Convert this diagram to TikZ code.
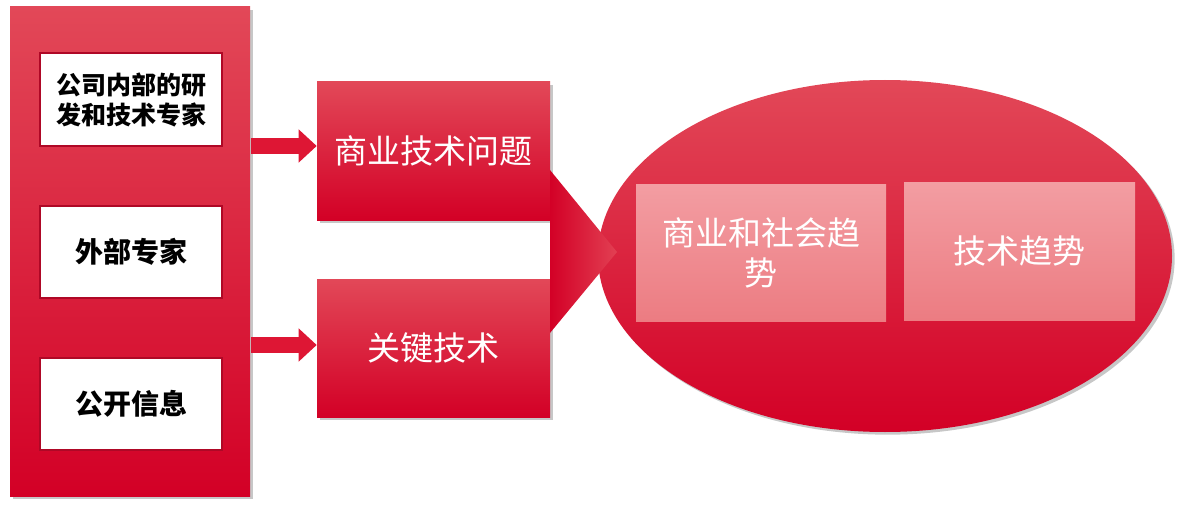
\documentclass[tikz,border=0pt]{standalone}
\usepackage{fontspec}
\setmainfont{Noto Sans CJK SC}
\usetikzlibrary{shapes.geometric,shadows,arrows.meta}
\definecolor{rtop}{RGB}{226,72,88}
\definecolor{rmid}{RGB}{225,16,52}
\definecolor{rbot}{RGB}{211,0,38}
\definecolor{ptop}{RGB}{243,157,162}
\definecolor{pbot}{RGB}{236,124,130}
\definecolor{wborder}{RGB}{175,8,38}
\definecolor{arrowred}{RGB}{222,22,52}
\tikzset{
  redshade/.style={shade, top color=rtop, middle color=rmid, bottom color=rbot, draw=none,
    drop shadow={shadow xshift=2pt, shadow yshift=-2pt, opacity=0.22, fill=black}},
  whitebox/.style={fill=white, draw=wborder, line width=1pt, minimum width=136.5pt, minimum height=69pt,
    align=center, font=\bfseries\fontsize{21pt}{22.5pt}\selectfont, text=black},
  redbox/.style={redshade, minimum width=174.75pt, minimum height=103.5pt, text=white,
    font=\fontsize{24.75pt}{30pt}\selectfont, inner sep=0pt},
  pinkbox/.style={shade, top color=ptop, bottom color=pbot, draw=none, text=white, align=center,
    font=\fontsize{24.75pt}{30pt}\selectfont, inner sep=0pt, minimum height=103pt},
  blockarrow/.style={draw=arrowred, line width=12.5pt, -{Triangle[length=13.5pt,width=24pt]}}
}
\begin{document}
\begin{tikzpicture}[x=0.75pt,y=-0.75pt]
\useasboundingbox (0,0) rectangle (1183,510);
% left panel
\node[redshade, minimum width=180pt, minimum height=366.75pt, inner sep=0pt] (panel) at (130,251.5) {};
\node[whitebox, minimum height=69.75pt, font=\bfseries\fontsize{18.75pt}{22.5pt}\selectfont] (b1) at (131,99.5) {公司内部的研\\发和技术专家};
\node[whitebox] (b2) at (131,252) {外部专家};
\node[whitebox] (b3) at (131,404) {公开信息};
% middle boxes
\node[redbox] (q1) at (433.5,151) {商业技术问题};
\node[redbox] (q2) at (433.5,348) {关键技术};
% arrows
\coordinate (a1s) at (251,146);
\coordinate (a2s) at (251,345);
\draw[blockarrow] (a1s) -- (q1.west |- a1s);
\draw[blockarrow] (a2s) -- (q2.west |- a2s);
% ellipse
\node[ellipse, shade, top color=rtop, middle color=rmid, bottom color=rbot, draw=none,
  minimum width=430.5pt, minimum height=264pt, inner sep=0pt,
  drop shadow={shadow xshift=2pt, shadow yshift=-2pt, opacity=0.22, fill=black}] (ell) at (885,256) {};
% funnel
\coordinate (ftop) at (550,170);
\coordinate (fbot) at (550,333);
\coordinate (ftip) at (617,252);
\shade[left color=rbot, right color=rtop!85!rmid] (ftop) -- (ftip) -- (fbot) -- cycle;
% inner boxes
\node[pinkbox, minimum width=187.5pt, minimum height=102.75pt] (t1) at (761,252.5) {商业和社会趋\\势};
\node[pinkbox, minimum width=173.25pt, minimum height=103.5pt] (t2) at (1019.5,251) {技术趋势};
\end{tikzpicture}
\end{document}
